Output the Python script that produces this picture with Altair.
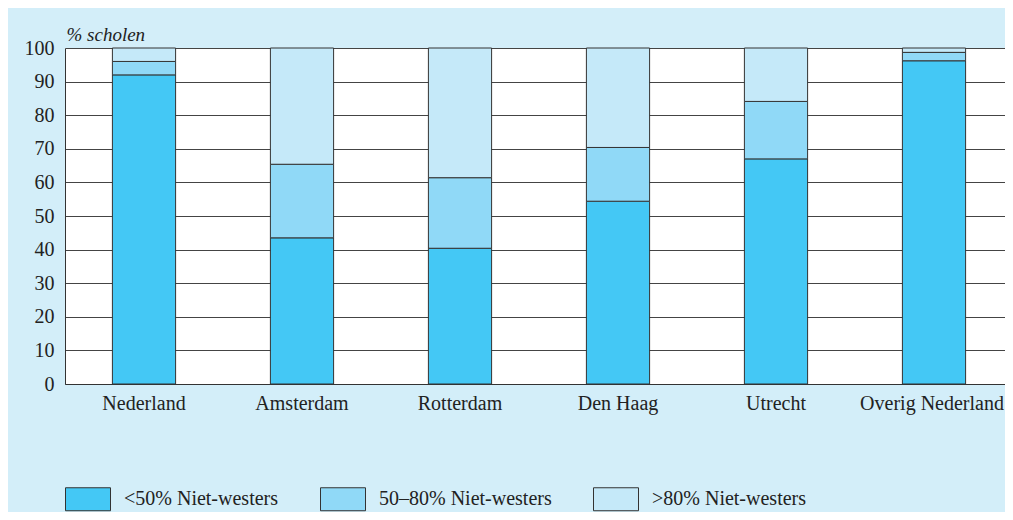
import altair as alt
import pandas as pd

cities = ["Nederland", "Amsterdam", "Rotterdam", "Den Haag", "Utrecht", "Overig Nederland"]
categories = ["<50% Niet-westers", "50–80% Niet-westers", ">80% Niet-westers"]
lt50 = [92.0, 43.5, 40.4, 54.4, 67.0, 96.2]
mid = [4.0, 21.9, 21.0, 16.0, 17.1, 2.5]
gt80 = [4.0, 34.6, 38.6, 29.6, 15.9, 1.3]
colors = ["#44c8f5", "#90d9f7", "#c5e9f9"]
y_ticks = list(range(0, 101, 10))

rows = []
for i, c in enumerate(cities):
    for rank, (cat, vals) in enumerate(zip(categories, [lt50, mid, gt80])):
        rows.append({"stad": c, "cat": cat, "rank": rank, "pct": vals[i]})
df = pd.DataFrame(rows)

FONT = "Liberation Serif"

chart = (
    alt.Chart(df)
    .mark_bar(stroke="#333333", strokeWidth=1)
    .encode(
        x=alt.X(
            "stad:N",
            sort=cities,
            title=None,
            scale=alt.Scale(paddingInner=0.6, paddingOuter=0.3, range=[0, 948]),
            axis=alt.Axis(
                labelAngle=0,
                ticks=False,
                domain=True,
                domainColor="#333333",
                labelPadding=9,
                labelFontSize=20,
                labelFont=FONT,
                labelColor="#222222",
                labelLimit=300,
                labelOffset={"condition": {"test": "datum.value == 'Overig Nederland'", "value": -2}, "value": 0},
            ),
        ),
        y=alt.Y(
            "pct:Q",
            stack="zero",
            scale=alt.Scale(domain=[0, 100], nice=False),
            axis=alt.Axis(
                values=y_ticks,
                grid=True,
                gridColor="#444444",
                gridWidth=1,
                ticks=False,
                domain=True,
                domainColor="#333333",
                labelPadding=11,
                labelFontSize=20,
                labelFont=FONT,
                labelColor="#222222",
                title="% scholen",
                titleFont=FONT,
                titleFontSize=19,
                titleFontStyle="italic",
                titleFontWeight="normal",
                titleColor="#222222",
                titleAngle=0,
                titleAlign="left",
                titleBaseline="alphabetic",
                titleX=1,
                titleY=-8,
            ),
        ),
        color=alt.Color(
            "cat:N",
            scale=alt.Scale(domain=categories, range=colors),
            legend=alt.Legend(
                title=None,
                orient="none",
                legendX=0,
                legendY=428,
                direction="horizontal",
                columnPadding=39,
                symbolType="M-1,-0.511H1V0.511H-1Z",
                symbolSize=2025,
                symbolStrokeColor="#333333",
                symbolStrokeWidth=1,
                symbolOpacity=1,
                labelOffset=13,
                labelFontSize=20,
                labelFont=FONT,
                labelColor="#222222",
                labelLimit=400,
                padding=0,
                symbolOffset=0,
            ),
        ),
        order=alt.Order("rank:Q", sort="ascending"),
    )
    .properties(
        width=940,
        height=336,
        background="#d3eef9",
        padding={"left": 57, "top": 40, "right": 0, "bottom": 128},
        autosize=alt.AutoSizeParams(type="none"),
    )
    .configure_view(fill="white", stroke=None)
)

chart.save("out.html", embed_options={"renderer": "svg", "actions": False})
